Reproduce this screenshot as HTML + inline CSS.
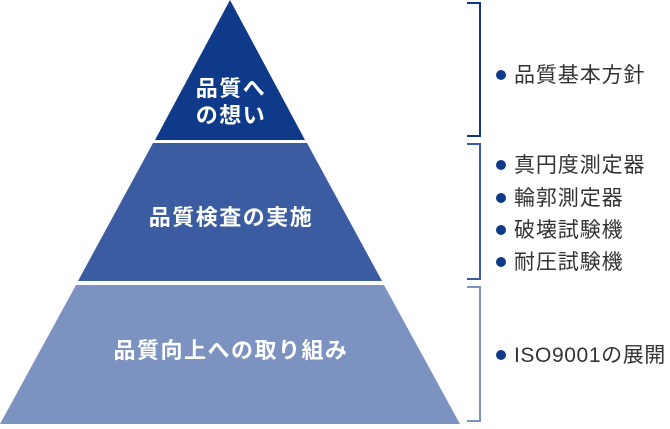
<!DOCTYPE html>
<html><head><meta charset="utf-8"><style>
body{margin:0;width:670px;height:424px;background:#fff;overflow:hidden}
</style></head><body>
<svg width="670" height="424" viewBox="0 0 670 424" xmlns="http://www.w3.org/2000/svg" font-family="'Liberation Sans','Noto Sans CJK JP',sans-serif">
<polygon points="230,0 305,140 155,140" fill="#0f3a8a"/>
<polygon points="153,143 307,143 382,281 78,281" fill="#3c5ca1"/>
<polygon points="76,285 384,285 460,424 0,424" fill="#7c93c2"/>
<g font-size="22" font-weight="bold" fill="#fff" text-anchor="middle" letter-spacing="1.5">
<text x="231" y="96">品質へ</text>
<text x="231" y="123">の想い</text>
<text x="231" y="225">品質検査の実施</text>
<text x="231" y="358">品質向上への取り組み</text>
</g>
<g fill="none" stroke-width="2">
<path d="M467,3 H480 V136 H467" stroke="#0f3a8a"/>
<path d="M467,144 H480 V279 H467" stroke="#3c5ca1"/>
<path d="M467,287 H480 V421 H467" stroke="#7c93c2"/>
</g>
<g fill="#0f3a8a">
<circle cx="501" cy="75" r="5"/>
<circle cx="501" cy="165" r="5"/>
<circle cx="501" cy="198" r="5"/>
<circle cx="501" cy="230" r="5"/>
<circle cx="501" cy="262" r="5"/>
<circle cx="501" cy="355" r="5"/>
</g>
<g font-size="21" fill="#333" letter-spacing="0.9">
<text x="514" y="82">品質基本方針</text>
<text x="514" y="172">真円度測定器</text>
<text x="514" y="205">輪郭測定器</text>
<text x="514" y="237">破壊試験機</text>
<text x="514" y="269">耐圧試験機</text>
<text x="514" y="362" letter-spacing="0.6">ISO9001の展開</text>
</g>
</svg>
</body></html>
